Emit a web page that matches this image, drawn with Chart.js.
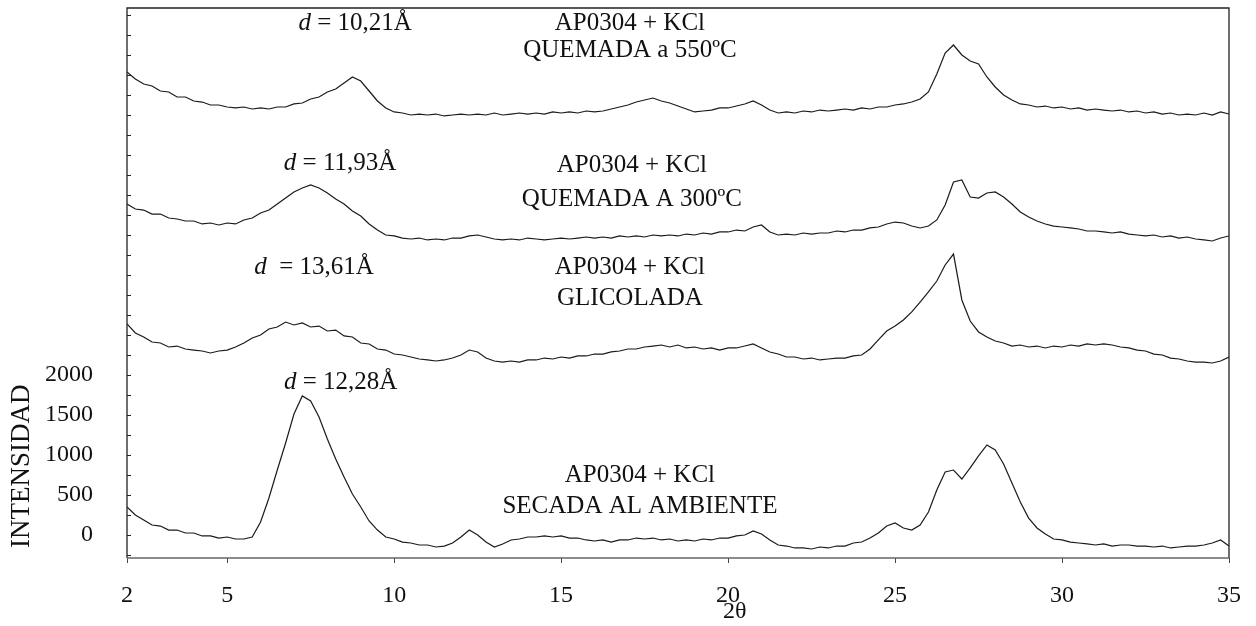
<!DOCTYPE html>
<html>
<head>
<meta charset="utf-8">
<script src="https://cdn.jsdelivr.net/npm/chart.js@4.4.1/dist/chart.umd.min.js"></script>
<style>
html,body{margin:0;padding:0;background:#fff;}
#wrap{width:1256px;height:626px;}
</style>
</head>
<body>
<div id="wrap"><canvas id="c" width="1256" height="626"></canvas></div>
<script>
// ---- DATA ----
const theta = [2,2.25,2.5,2.75,3,3.25,3.5,3.75,4,4.25,4.5,4.75,5,5.25,5.5,5.75,6,6.25,6.5,6.75,
7,7.25,7.5,7.75,8,8.25,8.5,8.75,9,9.25,9.5,9.75,10,10.25,10.5,10.75,11,11.25,11.5,11.75,
12,12.25,12.5,12.75,13,13.25,13.5,13.75,14,14.25,14.5,14.75,15,15.25,15.5,15.75,16,16.25,16.5,16.75,
17,17.25,17.5,17.75,18,18.25,18.5,18.75,19,19.25,19.5,19.75,20,20.25,20.5,20.75,21,21.25,21.5,21.75,
22,22.25,22.5,22.75,23,23.25,23.5,23.75,24,24.25,24.5,24.75,25,25.25,25.5,25.75,26,26.25,26.5,26.75,
27,27.25,27.5,27.75,28,28.25,28.5,28.75,29,29.25,29.5,29.75,30,30.25,30.5,30.75,31,31.25,31.5,31.75,
32,32.25,32.5,32.75,33,33.25,33.5,33.75,34,34.25,34.5,34.75,35];

// QUEMADA a 550ºC (offset trace, top)
const quemada550 = [5788,5700,5638,5612,5550,5538,5475,5475,5425,5412,5375,5375,5350,5338,5350,5325,5338,5325,5350,5350,
5388,5400,5450,5475,5538,5575,5650,5725,5675,5550,5425,5338,5288,5275,5250,5262,5250,5262,5238,5250,
5262,5250,5262,5250,5275,5250,5262,5275,5262,5275,5262,5288,5275,5288,5275,5300,5288,5300,5325,5350,
5375,5412,5438,5462,5425,5400,5362,5325,5288,5300,5312,5338,5338,5362,5388,5425,5375,5312,5275,5288,
5275,5300,5288,5312,5300,5312,5325,5312,5338,5325,5350,5350,5375,5388,5412,5450,5538,5762,6025,6125,
6000,5925,5888,5725,5600,5500,5438,5388,5375,5350,5362,5338,5350,5325,5338,5312,5325,5312,5300,5312,
5288,5300,5275,5288,5262,5275,5250,5262,5250,5275,5250,5288,5262];

// QUEMADA A 300ºC
const quemada300 = [4138,4075,4062,4012,4012,3962,3950,3925,3925,3888,3900,3875,3900,3888,3938,3962,4025,4062,4138,4212,
4288,4338,4375,4338,4275,4200,4138,4050,3988,3888,3812,3750,3738,3712,3700,3712,3688,3700,3688,3712,
3712,3738,3750,3725,3700,3688,3700,3688,3712,3700,3688,3700,3712,3700,3712,3725,3712,3725,3712,3738,
3725,3738,3725,3750,3738,3750,3738,3762,3750,3775,3762,3788,3788,3812,3800,3850,3875,3788,3750,3762,
3750,3775,3762,3775,3775,3800,3788,3812,3812,3838,3850,3888,3912,3900,3862,3838,3862,3938,4125,4412,
4438,4225,4212,4275,4288,4225,4138,4038,3975,3925,3888,3862,3850,3838,3825,3800,3800,3788,3775,3788,
3762,3750,3738,3750,3725,3738,3712,3725,3700,3688,3675,3712,3738];

// GLICOLADA
const glicolada = [2638,2525,2475,2412,2400,2350,2362,2325,2312,2300,2275,2300,2312,2350,2400,2462,2500,2575,2600,2662,
2625,2650,2600,2612,2550,2562,2488,2475,2400,2388,2325,2312,2262,2250,2225,2200,2188,2175,2188,2212,
2250,2312,2288,2212,2175,2162,2175,2162,2188,2188,2212,2200,2225,2212,2238,2238,2262,2262,2288,2300,
2325,2325,2350,2362,2375,2350,2375,2338,2350,2325,2338,2312,2338,2338,2362,2388,2338,2288,2262,2225,
2225,2200,2212,2188,2200,2212,2212,2238,2250,2325,2438,2550,2612,2688,2788,2912,3038,3175,3375,3512,
2938,2675,2538,2475,2425,2400,2362,2375,2350,2362,2338,2362,2350,2375,2362,2388,2375,2388,2375,2350,
2338,2312,2300,2262,2250,2212,2200,2175,2162,2162,2150,2175,2225];

// SECADA AL AMBIENTE (true intensity)
const secada = [350,250,188,125,112,62,62,25,25,-12,-12,-38,-25,-50,-50,-25,162,462,812,1150,
1512,1738,1675,1475,1200,950,725,512,350,175,62,-25,-50,-88,-100,-125,-125,-150,-138,-100,
-25,62,0,-88,-150,-112,-62,-50,-25,-25,-12,-25,-12,-38,-38,-62,-75,-62,-88,-62,
-62,-38,-50,-38,-62,-50,-75,-62,-75,-50,-62,-38,-38,-12,0,50,12,-62,-125,-138,
-162,-162,-175,-150,-162,-138,-138,-100,-88,-38,25,112,150,88,62,125,288,562,788,812,
700,838,988,1125,1062,888,650,412,212,88,12,-50,-62,-88,-100,-112,-125,-112,-138,-125,
-125,-138,-138,-150,-138,-162,-150,-138,-138,-125,-100,-62,-138];

const xTickValues = [2,5,10,15,20,25,30,35];
const yTickValues = [0,500,1000,1500,2000];
const yMinorStep = 250;
const xRange = [2,35];
const yRange = [-287.5,6587.5];

// annotations in data coordinates
const annotations = [
  {x:8.83,  y:6400, parts:[{t:'d',i:true},{t:' = 10,21Å'}]},
  {x:17.06, y:6400, parts:[{t:'AP0304 + KCl'}]},
  {x:17.06, y:6060, parts:[{t:'QUEMADA a 550ºC'}]},
  {x:8.38,  y:4650, parts:[{t:'d',i:true},{t:' = 11,93Å'}]},
  {x:17.12, y:4625, parts:[{t:'AP0304 + KCl'}]},
  {x:17.12, y:4190, parts:[{t:'QUEMADA A 300ºC'}]},
  {x:7.6,   y:3340, parts:[{t:'d',i:true},{t:'  = 13,61Å'}]},
  {x:17.06, y:3340, parts:[{t:'AP0304 + KCl'}]},
  {x:17.06, y:2960, parts:[{t:'GLICOLADA'}]},
  {x:8.4,   y:1910, parts:[{t:'d',i:true},{t:' = 12,28Å'}]},
  {x:17.36, y:750,  parts:[{t:'AP0304 + KCl'}]},
  {x:17.36, y:360,  parts:[{t:'SECADA AL AMBIENTE'}]}
];
const xTitle = {text:'2θ', x:20.2};
const yTitle = {text:'INTENSIDAD', y:860};

const SERIF = '"Liberation Serif", "DejaVu Serif", serif';
const INK = '#1a1a1a';

function pts(arr){ return theta.map((t,i)=>({x:t,y:arr[i]})); }
function ds(arr){ return {data:pts(arr), borderColor:INK, borderWidth:1.2, pointRadius:0, tension:0, fill:false}; }

const decor = {
  id:'decor',
  afterDraw(chart){
    const ctx = chart.ctx, a = chart.chartArea;
    const xs = chart.scales.x, ys = chart.scales.y;
    ctx.save();
    // frame
    ctx.strokeStyle = '#222'; ctx.lineWidth = 1.3;
    ctx.beginPath();
    ctx.moveTo(a.left, a.bottom); ctx.lineTo(a.left, a.top); ctx.lineTo(a.right, a.top); ctx.lineTo(a.right, a.bottom);
    ctx.stroke();
    ctx.strokeStyle = '#666'; ctx.lineWidth = 1.5;
    ctx.beginPath(); ctx.moveTo(a.left, a.bottom); ctx.lineTo(a.right, a.bottom); ctx.stroke();
    // inward minor ticks on y axis
    ctx.strokeStyle = '#222'; ctx.lineWidth = 1;
    for (let v = -250; v <= yRange[1]; v += yMinorStep) {
      const py = Math.round(ys.getPixelForValue(v)) + 0.5;
      ctx.beginPath(); ctx.moveTo(a.left, py); ctx.lineTo(a.left + 4, py); ctx.stroke();
    }
    // annotations
    ctx.fillStyle = '#111';
    ctx.textBaseline = 'middle';
    ctx.textAlign = 'left';
    annotations.forEach(an => {
      const px = xs.getPixelForValue(an.x), py = ys.getPixelForValue(an.y);
      let w = 0;
      an.parts.forEach(p => { ctx.font = (p.i?'italic ':'') + '25px ' + SERIF; w += ctx.measureText(p.t).width; });
      let cx = px - w/2;
      an.parts.forEach(p => { ctx.font = (p.i?'italic ':'') + '25px ' + SERIF; ctx.fillText(p.t, cx, py); cx += ctx.measureText(p.t).width; });
    });
    // axis titles
    ctx.font = '24px ' + SERIF;
    ctx.textAlign = 'center';
    ctx.fillText(xTitle.text, xs.getPixelForValue(xTitle.x), a.bottom + 54);
    ctx.translate(22, ys.getPixelForValue(yTitle.y));
    ctx.rotate(-Math.PI/2);
    ctx.font = '27px ' + SERIF;
    ctx.fillText(yTitle.text, 0, 0);
    ctx.restore();
  }
};

new Chart(document.getElementById('c'), {
  type:'line',
  data:{ datasets:[ds(quemada550), ds(quemada300), ds(glicolada), ds(secada)] },
  options:{
    responsive:false, animation:false, devicePixelRatio:1,
    layout:{ padding:{ top:8, right:27, left:0, bottom:0 } },
    plugins:{ legend:{display:false}, tooltip:{enabled:false} },
    scales:{
      x:{
        type:'linear', min:xRange[0], max:xRange[1],
        afterBuildTicks:s=>{ s.ticks = xTickValues.map(v=>({value:v})); },
        afterFit:s=>{ s.height = 68; s.paddingLeft = 0; s.paddingRight = 0; },
        ticks:{ autoSkip:false, maxRotation:0, color:'#111', padding:18, font:{family:SERIF, size:24},
                callback:v=>String(v) },
        grid:{ display:true, drawOnChartArea:false, drawTicks:true, tickLength:5, color:'#444' },
        border:{ display:false }
      },
      y:{
        type:'linear', min:yRange[0], max:yRange[1],
        afterBuildTicks:s=>{ s.ticks = yTickValues.map(v=>({value:v})); },
        afterFit:s=>{ s.width = 127; s.paddingTop = 0; s.paddingBottom = 0; },
        ticks:{ color:'#111', padding:34, font:{family:SERIF, size:24}, callback:v=>String(v) },
        grid:{ display:false, drawTicks:false },
        border:{ display:false }
      }
    }
  },
  plugins:[decor]
});
</script>
</body>
</html>
